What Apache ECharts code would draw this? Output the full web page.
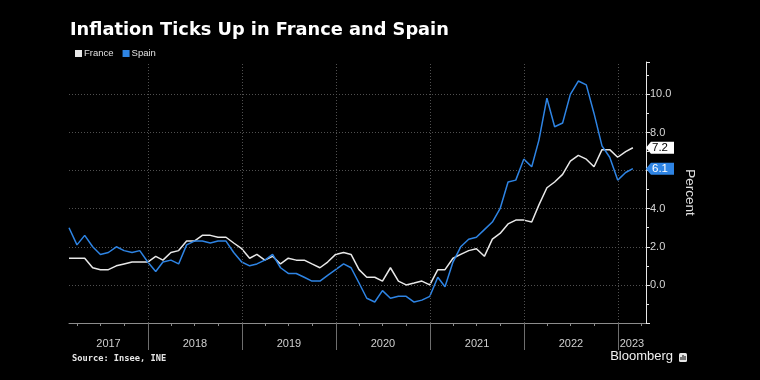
<!DOCTYPE html>
<html><head><meta charset="utf-8">
<script src="https://cdn.jsdelivr.net/npm/echarts@6/dist/echarts.min.js"></script>
<style>html,body{margin:0;padding:0;background:#000;}#c{width:760px;height:380px;}</style>
</head><body><div id="c"></div>
<script>
const months = [
 '2017-02','2017-03','2017-04','2017-05','2017-06','2017-07','2017-08','2017-09','2017-10','2017-11','2017-12',
 '2018-01','2018-02','2018-03','2018-04','2018-05','2018-06','2018-07','2018-08','2018-09','2018-10','2018-11','2018-12',
 '2019-01','2019-02','2019-03','2019-04','2019-05','2019-06','2019-07','2019-08','2019-09','2019-10','2019-11','2019-12',
 '2020-01','2020-02','2020-03','2020-04','2020-05','2020-06','2020-07','2020-08','2020-09','2020-10','2020-11','2020-12',
 '2021-01','2021-02','2021-03','2021-04','2021-05','2021-06','2021-07','2021-08','2021-09','2021-10','2021-11','2021-12',
 '2022-01','2022-02','2022-03','2022-04','2022-05','2022-06','2022-07','2022-08','2022-09','2022-10','2022-11','2022-12',
 '2023-01','2023-02'
];
const france = [
 1.4,1.4,1.4,0.9,0.8,0.8,1.0,1.1,1.2,1.2,1.2,
 1.5,1.3,1.7,1.8,2.3,2.3,2.6,2.6,2.5,2.5,2.2,1.9,
 1.4,1.6,1.3,1.5,1.1,1.4,1.3,1.3,1.1,0.9,1.2,1.6,
 1.7,1.6,0.8,0.4,0.4,0.2,0.9,0.2,0.0,0.1,0.2,0.0,
 0.8,0.8,1.4,1.6,1.8,1.9,1.5,2.4,2.7,3.2,3.4,3.4,
 3.3,4.2,5.1,5.4,5.8,6.5,6.8,6.6,6.2,7.1,7.1,6.7,
 7.0,7.2
];
const spain = [
 3.0,2.1,2.6,2.0,1.6,1.7,2.0,1.8,1.7,1.8,1.2,
 0.7,1.2,1.3,1.1,2.1,2.3,2.3,2.2,2.3,2.3,1.7,1.2,
 1.0,1.1,1.3,1.6,0.9,0.6,0.6,0.4,0.2,0.2,0.5,0.8,
 1.1,0.9,0.1,-0.7,-0.9,-0.3,-0.7,-0.6,-0.6,-0.9,-0.8,-0.6,
 0.4,-0.1,1.2,2.0,2.4,2.5,2.9,3.3,4.0,5.4,5.5,6.6,
 6.2,7.6,9.8,8.3,8.5,10.0,10.7,10.5,9.0,7.3,6.7,5.5,
 5.9,6.1
];
const years = [2017, 2018, 2019, 2020, 2021, 2022, 2023];
const seriesNames = ['France', 'Spain'];

// end-of-month timestamp for 'YYYY-MM'
function eom(s) { const p = s.split('-'); return new Date(+p[0], +p[1], 0).getTime(); }
const xMin = eom(months[0]);
const xMax = new Date(2023, 3, 20).getTime();
const yearStarts = years.slice(1).map(y => new Date(y, 0, 1).getTime());
const yearMids = years.map(y => {
  const a = Math.max(new Date(y, 0, 1).getTime(), xMin);
  const b = Math.min(new Date(y + 1, 0, 1).getTime(), xMax);
  return (a + b) / 2;
});
const quarterTicks = [];
years.forEach(y => [0, 3, 6, 9].forEach(m => {
  const t = new Date(y, m, 1).getTime();
  if (t > xMin && t < xMax) quarterTicks.push(t);
}));

const FONT = 'Liberation Sans';
const cFrance = '#e8e8e8', cSpain = '#2e84e4';

function endLabel(vals, bg, fg) {
  const last = vals[vals.length - 1];
  return {
    silent: true,
    symbol: 'path://M0,6 L6,0 L34,0 L34,12 L6,12 Z',
    symbolSize: [28, 12],
    symbolKeepAspect: false,
    symbolOffset: ['50%', 0],
    itemStyle: { color: bg },
    label: { show: true, position: 'inside', color: fg, fontSize: 11.5, fontFamily: FONT,
             offset: [0, 0], formatter: () => last.toFixed(1) },
    data: [{ coord: [xMax, last] }]
  };
}

const chart = echarts.init(document.getElementById('c'), null, { renderer: 'canvas' });
chart.setOption({
  animation: false,
  backgroundColor: '#000',
  textStyle: { fontFamily: FONT },
  title: [
    { text: 'Inflation Ticks Up in France and Spain', left: 70, top: 21, padding: 0,
      textStyle: { color: '#fff', fontFamily: 'DejaVu Sans', fontWeight: 'bold', fontSize: 17.8 } },
    { text: 'Source: Insee, INE', left: 72, top: 354, padding: 0,
      textStyle: { color: '#e6e6e6', fontFamily: 'DejaVu Sans Mono', fontWeight: 'bold', fontSize: 8.7 } },
    { text: 'Bloomberg', right: 87, top: 350, padding: 0,
      textStyle: { color: '#f0f0f0', fontFamily: FONT, fontWeight: 'normal', fontSize: 13 } }
  ],
  graphic: [
    { type: 'group', left: 679, top: 353, children: [
      { type: 'rect', shape: { x: 0, y: 0, width: 8, height: 9, r: 1.5 }, style: { fill: '#e6e6e6' } },
      { type: 'rect', shape: { x: 1.5, y: 4, width: 1, height: 3 }, style: { fill: '#000' } },
      { type: 'rect', shape: { x: 3.5, y: 2, width: 1, height: 5 }, style: { fill: '#000' } },
      { type: 'rect', shape: { x: 5.5, y: 3, width: 1, height: 4 }, style: { fill: '#000' } }
    ]}
  ],
  legend: {
    data: seriesNames, left: 75, top: 48.5, padding: 0, icon: 'rect', itemWidth: 7, itemHeight: 7, itemGap: 9,
    textStyle: { color: '#e0e0e0', fontSize: 9.5, fontFamily: FONT, padding: [0, 0, 0, -3] }
  },
  grid: { left: 69, right: 114, top: 62, bottom: 57, containLabel: false },
  xAxis: [
    { type: 'value', min: xMin, max: xMax, position: 'bottom', scale: true,
      axisLine: { show: true, onZero: false, lineStyle: { color: '#8c8c8c', width: 1 } },
      axisTick: { show: true, customValues: quarterTicks, length: 3, lineStyle: { color: '#8c8c8c' } },
      axisLabel: { show: true, customValues: yearMids, color: '#cfcfcf', fontSize: 11, margin: 15,
                   hideOverlap: false, showMinLabel: true, showMaxLabel: true,
                   formatter: v => String(new Date(v).getFullYear()) },
      splitLine: { show: false } },
    { type: 'value', min: xMin, max: xMax, position: 'bottom', scale: true,
      axisLine: { show: false, onZero: false },
      axisTick: { show: true, customValues: yearStarts, length: 27, lineStyle: { color: '#6e6e6e' } },
      axisLabel: { show: false },
      splitLine: { show: false } }
  ],
  yAxis: {
    type: 'value', position: 'right', min: -2, max: 11.7, interval: 2,
    axisLine: { show: true, lineStyle: { color: '#e6e6e6', width: 1 } },
    axisTick: { show: true, length: 4, lineStyle: { color: '#e6e6e6' } },
    minorTick: { show: true, splitNumber: 2, length: 3, lineStyle: { color: '#e6e6e6' } },
    axisLabel: { color: '#d6d6d6', fontSize: 11, margin: 4, showMinLabel: false, showMaxLabel: false,
                 formatter: v => (Math.abs(v % 2) < 1e-9 ? v.toFixed(1) : '') },
    splitLine: { show: true, showMinLine: false, showMaxLine: false,
                 lineStyle: { color: '#505050', type: [1, 2], width: 1 } },
    name: 'Percent', nameLocation: 'middle', nameRotate: -90, nameGap: 36,
    nameTextStyle: { color: '#e0e0e0', fontSize: 13.5, fontFamily: FONT }
  },
  series: [
    { name: '_grid', type: 'line', data: [], z: 1, silent: true,
      markLine: { silent: true, symbol: ['none', 'none'], label: { show: false },
                  lineStyle: { color: '#505050', type: [1, 2], width: 1 },
                  data: yearStarts.map(t => ({ xAxis: t })) } },
    { name: seriesNames[0], type: 'line', showSymbol: false, z: 3,
      data: months.map((m, i) => [eom(m), france[i]]),
      itemStyle: { color: cFrance }, lineStyle: { color: cFrance, width: 1.5 },
      markPoint: endLabel(france, '#ffffff', '#000000') },
    { name: seriesNames[1], type: 'line', showSymbol: false, z: 4,
      data: months.map((m, i) => [eom(m), spain[i]]),
      itemStyle: { color: cSpain }, lineStyle: { color: cSpain, width: 1.5 },
      markPoint: endLabel(spain, cSpain, '#ffffff') }
  ]
});
</script></body></html>
